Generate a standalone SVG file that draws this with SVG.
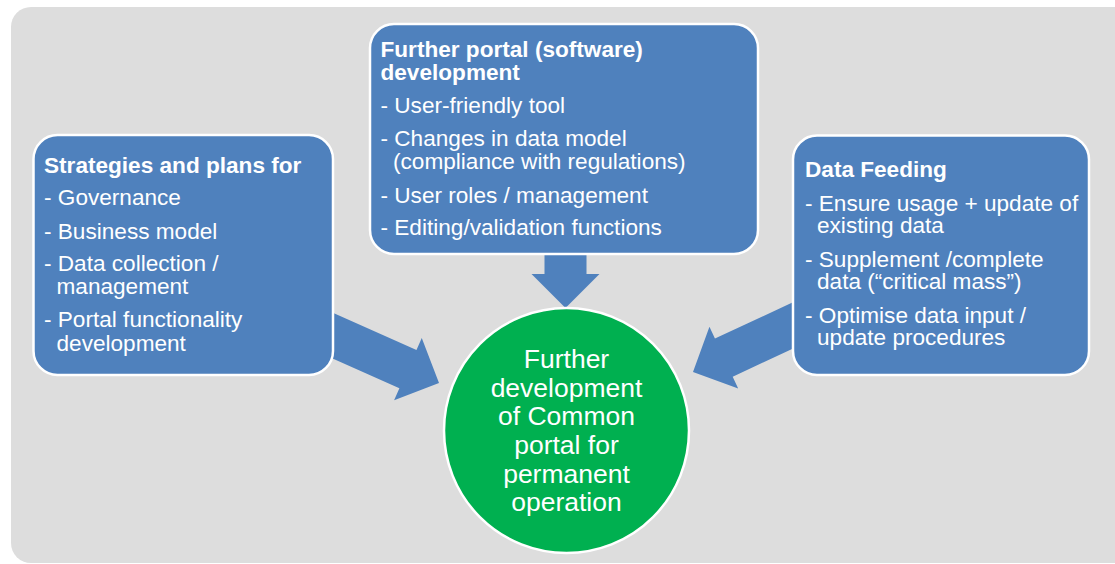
<svg xmlns="http://www.w3.org/2000/svg" width="1115" height="564" viewBox="0 0 1115 564">
  <style>
    .box { fill: #4F81BD; stroke: #FFFFFF; stroke-width: 2.5; }
    .arrow { fill: #4F81BD; stroke: none; }
    .title { font-family: "Liberation Sans", Arial, sans-serif; font-size: 22.6px; font-weight: bold; fill: #FFFFFF; }
    .body { font-family: "Liberation Sans", Arial, sans-serif; font-size: 22.6px; fill: #FFFFFF; }
    .center { font-family: "Liberation Sans", Arial, sans-serif; font-size: 26.5px; fill: #FFFFFF; text-anchor: middle; }
  </style>
  <defs>
    <path id="blockArrow" d="M0,0 L-34,-34 L-34,-21 L-160,-21 L-160,21 L-34,21 L-34,34 Z"/>
  </defs>
  <rect width="1115" height="564" fill="#FFFFFF"/>
  <rect x="11" y="7" width="1130" height="556" rx="20" ry="20" fill="#DDDDDD"/>

  <g id="connectors">
    <use href="#blockArrow" class="arrow" transform="translate(565.5,308) rotate(90)"/>
    <use href="#blockArrow" class="arrow" transform="translate(439,383) rotate(24)"/>
    <use href="#blockArrow" class="arrow" transform="translate(693,372) rotate(155)"/>
  </g>

  <g id="strategies">
    <rect class="box" x="33.5" y="135" width="299.5" height="240" rx="24" ry="24"/>
    <text class="title" x="44" y="172.5">Strategies and plans for</text>
    <text class="body" x="44" y="205.3">- Governance</text>
    <text class="body" x="44" y="238.7">- Business model</text>
    <text class="body" x="44" y="270.7">- Data collection /</text>
    <text class="body" x="56.5" y="294.3">management</text>
    <text class="body" x="44" y="327.3">- Portal functionality</text>
    <text class="body" x="56.5" y="350.7">development</text>
  </g>

  <g id="portal-dev">
    <rect class="box" x="370" y="24" width="388" height="230" rx="24" ry="24"/>
    <text class="title" x="380.5" y="57">Further portal (software)</text>
    <text class="title" x="380.5" y="80.2">development</text>
    <text class="body" x="380.5" y="113.3">- User-friendly tool</text>
    <text class="body" x="380.5" y="146">- Changes in data model</text>
    <text class="body" x="393" y="169">(compliance with regulations)</text>
    <text class="body" x="380.5" y="202.7">- User roles / management</text>
    <text class="body" x="380.5" y="235">- Editing/validation functions</text>
  </g>

  <g id="data-feeding">
    <rect class="box" x="793" y="135.5" width="296" height="239.5" rx="24" ry="24"/>
    <text class="title" x="805" y="176.7">Data Feeding</text>
    <text class="body" x="805" y="210.7">- Ensure usage + update of</text>
    <text class="body" x="817" y="233.3">existing data</text>
    <text class="body" x="805" y="266.7">- Supplement /complete</text>
    <text class="body" x="817" y="289.3">data (“critical mass”)</text>
    <text class="body" x="805" y="322.7">- Optimise data input /</text>
    <text class="body" x="817" y="345.3">update procedures</text>
  </g>

  <g id="common-portal">
    <circle cx="566.5" cy="430.5" r="122.5" fill="#00B050" stroke="#FFFFFF" stroke-width="2.5"/>
    <text class="center" x="566.5" y="368.3">Further</text>
    <text class="center" x="566.5" y="396.7">development</text>
    <text class="center" x="566.5" y="425">of Common</text>
    <text class="center" x="566.5" y="454">portal for</text>
    <text class="center" x="566.5" y="482.7">permanent</text>
    <text class="center" x="566.5" y="510.7">operation</text>
  </g>
</svg>
